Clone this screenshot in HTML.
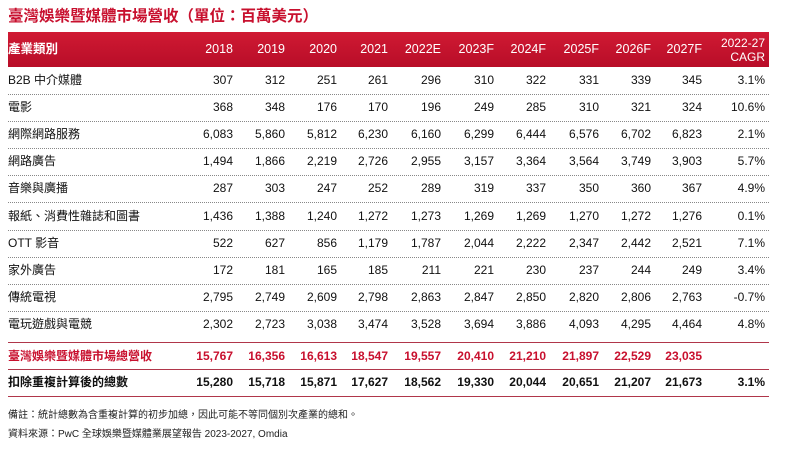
<!DOCTYPE html>
<html><head><meta charset="utf-8"><style>
body{margin:0;width:800px;height:457px;background:#fff;font-family:"Liberation Sans","Noto Sans CJK TC",sans-serif;position:relative;overflow:hidden;color:#111}
.t{position:absolute;white-space:nowrap}
.title{left:8px;top:4px;font-size:15.5px;color:#c8102e;font-weight:bold}
.hdr{position:absolute;left:8px;top:32px;width:761px;height:35px;background:linear-gradient(#d01a33,#b80d28)}
.r{position:absolute;left:8px;width:761px;height:27px;font-size:12px}
.r span{position:absolute;top:0;line-height:27px;text-align:right}
.r span.n{left:0;text-align:left}
.dot{border-bottom:1px dotted #888}
.h span{color:#fff;font-size:12.5px}
.note{font-size:10px;left:8px;color:#222}
</style></head><body>
<div class="t title">臺灣娛樂暨媒體市場營收（單位：百萬美元）</div>
<div class="hdr"></div>
<div id="rows"></div>
<div class="t note" style="top:406px">備註：統計總數為含重複計算的初步加總，因此可能不等同個別次產業的總和。</div>
<div class="t note" style="top:425px">資料來源：PwC 全球娛樂暨媒體業展望報告 2023-2027, Omdia</div>
<script>
var R=[233,285,337,388,441,494,546,599,651,702,765];
var data=[
["B2B 中介媒體","307","312","251","261","296","310","322","331","339","345","3.1%"],
["電影","368","348","176","170","196","249","285","310","321","324","10.6%"],
["網際網路服務","6,083","5,860","5,812","6,230","6,160","6,299","6,444","6,576","6,702","6,823","2.1%"],
["網路廣告","1,494","1,866","2,219","2,726","2,955","3,157","3,364","3,564","3,749","3,903","5.7%"],
["音樂與廣播","287","303","247","252","289","319","337","350","360","367","4.9%"],
["報紙、消費性雜誌和圖書","1,436","1,388","1,240","1,272","1,273","1,269","1,269","1,270","1,272","1,276","0.1%"],
["OTT 影音","522","627","856","1,179","1,787","2,044","2,222","2,347","2,442","2,521","7.1%"],
["家外廣告","172","181","165","185","211","221","230","237","244","249","3.4%"],
["傳統電視","2,795","2,749","2,609","2,798","2,863","2,847","2,850","2,820","2,806","2,763","-0.7%"],
["電玩遊戲與電競","2,302","2,723","3,038","3,474","3,528","3,694","3,886","4,093","4,295","4,464","4.8%"]];
var h='';
function row(d,top,cls,style){var s='<div class="r '+cls+'" style="top:'+top+'px;'+(style||'')+'">';
s+='<span class="n">'+d[0]+'</span>';
for(var i=1;i<d.length;i++){s+='<span style="right:'+(769-R[i-1])+'px">'+d[i]+'</span>';}
return s+'</div>';}
h+=row(["<b>產業類別</b>","2018","2019","2020","2021","2022E","2023F","2024F","2025F","2026F","2027F",""],36,'h','');
h+='<div class="t" style="right:35px;top:36px;color:#fff;font-size:12px;text-align:right;line-height:14px">2022-27<br>CAGR</div>';
for(var i=0;i<data.length;i++){h+=row(data[i],67+i*27.1,i<9?'dot':'','');}
h+=row(["臺灣娛樂暨媒體市場總營收","15,767","16,356","16,613","18,547","19,557","20,410","21,210","21,897","22,529","23,035",""],342,'','font-weight:bold;color:#c8102e;border-top:1.5px solid #b0364a;border-bottom:1.5px solid #b0364a;height:26px');
h+=row(["扣除重複計算後的總數","15,280","15,718","15,871","17,627","18,562","19,330","20,044","20,651","21,207","21,673","3.1%"],369,'','font-weight:bold;border-bottom:1.5px solid #b0364a');
document.getElementById('rows').innerHTML=h;
</script>
</body></html>
